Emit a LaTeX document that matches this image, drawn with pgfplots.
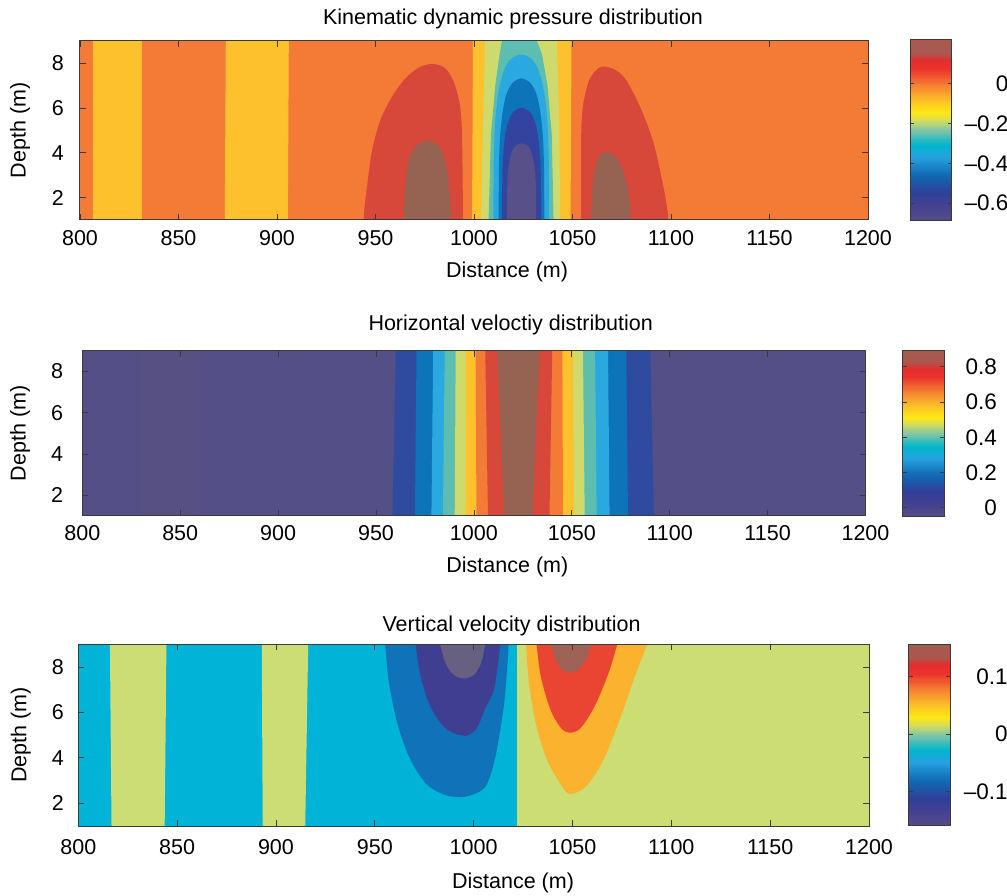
\documentclass[border=0pt]{standalone}
\usepackage{pgfplots}
\pgfplotsset{compat=1.18}
\usepackage{fontspec}
\setmainfont{Liberation Sans}

\definecolor{axisgray}{HTML}{3A3A3A}
\definecolor{cOr}{HTML}{F37B35}
\definecolor{cYe}{HTML}{FDC12D}
\definecolor{cRd}{HTML}{D8483A}
\definecolor{cBr}{HTML}{966252}
\definecolor{cYg}{HTML}{CEDB6C}
\definecolor{cTe}{HTML}{5DBEAF}
\definecolor{cLb}{HTML}{2AA8E0}
\definecolor{cBl}{HTML}{0D74BA}
\definecolor{cIn}{HTML}{3443A0}
\definecolor{cPu}{HTML}{585088}
\definecolor{cBg}{HTML}{544F87}
\definecolor{cBg2}{HTML}{565083}
\definecolor{cDb}{HTML}{2E4B9F}
\definecolor{vCy}{HTML}{00B3D7}
\definecolor{vYg}{HTML}{CBDD73}
\definecolor{vBl}{HTML}{1072B9}
\definecolor{vIn}{HTML}{403E91}
\definecolor{vGr}{HTML}{686080}
\definecolor{vOr}{HTML}{FBB22E}
\definecolor{vRd}{HTML}{E94532}
\definecolor{vBr}{HTML}{9E6356}

\pgfplotsset{
  colormap={mjet}{rgb255(0cm)=(84,78,133); rgb255(8cm)=(70,65,145); rgb255(15cm)=(48,62,152);
    rgb255(25cm)=(16,105,178); rgb255(35cm)=(38,160,222); rgb255(42cm)=(0,182,205);
    rgb255(50cm)=(125,196,168); rgb255(55cm)=(205,218,100); rgb255(60cm)=(255,232,18);
    rgb255(67cm)=(252,190,40); rgb255(75cm)=(245,130,50); rgb255(84cm)=(236,50,45);
    rgb255(89cm)=(228,45,45); rgb255(93cm)=(170,88,78); rgb255(100cm)=(165,90,80)},
  cfd/.style={scale only axis, axis on top, anchor=south west,
    every axis title shift=0pt,
    xmin=800, xmax=1200, ymin=1, ymax=9,
    xtick={800,850,...,1200}, xticklabels={800,850,900,950,1000,1050,1100,1150,1200},
    ytick={2,4,6,8}, yticklabels={2,4,6,8},
    tick align=inside, major tick length=6pt,
    tick style={color=axisgray, line width=0.8pt},
    axis line style={color=axisgray, line width=1pt},
    ticklabel style={font=\fontsize{21.5}{24}\selectfont, text=black, inner sep=0pt},
    xlabel={Distance (m)}, ylabel={Depth (m)},
    label style={font=\fontsize{21.5}{24}\selectfont},
    title style={font=\fontsize{21.5}{24}\selectfont},
    colormap name=mjet, colorbar sampled,
  },
  cbar/.style={at={(parent axis.north east)}, anchor=north west,
    scale only axis, width=41.6pt,
    title={}, xlabel={}, ylabel={}, xtick=\empty,
    tick align=inside, major tick length=4pt,
    tick style={color=axisgray, line width=0.8pt},
    axis line style={color=axisgray, line width=1pt},
    ytick pos=both, yticklabel pos=right, samples=160,
    yticklabel style={anchor=east, inner sep=0pt, font=\fontsize{22.5}{24}\selectfont}},
  area/.style={draw=none, fill=#1, forget plot},
  dome/.style={draw=none, fill=#1, forget plot, smooth, tension=0.5},
}

\begin{document}
\begin{tikzpicture}
\path[use as bounding box] (0pt,0pt) rectangle (1007pt,895pt);

% ---------------- Panel 1 ----------------
\begin{axis}[cfd, at={(80pt,675pt)}, width=788pt, height=179.3pt,
  title={Kinematic dynamic pressure distribution},
  title style={at={(axis description cs:0.5495,1)}, anchor=base, yshift=15.7pt},
  xlabel style={at={(axis description cs:0.542,0)}, anchor=base, yshift=-58pt},
  ylabel style={at={(axis description cs:-0.0761,0.5)}, anchor=center},
  xticklabel style={anchor=north, yshift=-10pt},
  yticklabel style={anchor=east, xshift=-16pt},
  point meta min=-0.684, point meta max=0.218,
  colorbar,
  colorbar style={cbar, xshift=33.7pt, yshift=0.7pt, height=180pt,
    ytick={-0.6,-0.4,-0.2,0}, yticklabels={--0.6,--0.4,--0.2,0},
    yticklabel style={xshift=56.7pt}},
]
\addplot[area=cOr] coordinates {(800,1)(1200,1)(1200,9)(800,9)} -- cycle;
\addplot[area=cYe] coordinates {(806.8,1)(831.6,1)(831.6,9)(806.8,9)} -- cycle;
\addplot[area=cYe] coordinates {(873.5,1)(905.5,1)(906,9)(874,9)} -- cycle;
\addplot[dome=cRd] coordinates {(944,-2)(944,1)(945.7,2.48)(948.3,4.12)(952.5,5.46)(958.4,6.5)(965.2,7.32)(972.8,7.84)(979.5,7.96)(985.4,7.77)(989.7,7.17)(992.7,6.2)(993.9,4.87)(994.4,1)(994.4,-2)} -- cycle;
\addplot[dome=cBr] coordinates {(964.3,-2)(964.3,1)(965.2,2.63)(966.8,3.67)(970.2,4.27)(975.3,4.54)(978.7,4.49)(982.9,4.2)(986,3.38)(987.6,2.19)(988.3,1)(988.3,-2)} -- cycle;
\addplot[dome=cRd] coordinates {(1054.4,-2)(1054.4,1)(1054.4,4.57)(1054.9,5.76)(1055.8,6.35)(1058.5,7.25)(1063,7.77)(1066.6,7.84)(1071.9,7.69)(1077.2,7.25)(1084.3,6.05)(1090.7,4.57)(1095.1,2.93)(1098.7,1)(1099,-2)} -- cycle;
\addplot[dome=cBr] coordinates {(1059.4,-2)(1059.4,1)(1060.3,2.63)(1062.1,3.53)(1064.8,3.97)(1068.4,4.0)(1071.9,3.82)(1075.5,3.23)(1078.1,2.33)(1079.6,1)(1079.6,-2)} -- cycle;
\addplot[area=cYe] coordinates {(999,1)(1049,1)(1049.5,9)(999.5,9)} -- cycle;
\addplot[area=cYg] coordinates {(1003.6,1)(1043.8,1)(1043.3,5)(1042.1,9)(1005.7,9)(1004.5,5)} -- cycle;
\addplot[area=cTe] coordinates {(1007.4,1)(1040.4,1)(1039.5,4.8)(1037.3,7.0)(1034.5,8.4)(1031.9,9)(1014.2,9)(1013,8.4)(1010.8,7.0)(1008.6,4.8)} -- cycle;
\addplot[dome=cLb] coordinates {(1009.8,-2)(1009.8,1)(1010.1,3.96)(1010.8,5.43)(1012.1,6.54)(1013.8,7.28)(1015.8,7.8)(1018.6,8.17)(1024,8.39)(1029.4,8.17)(1032.2,7.8)(1034.2,7.28)(1035.9,6.54)(1037.2,5.43)(1037.9,3.96)(1038.2,1)(1038.2,-2)} -- cycle;
\addplot[dome=cBl] coordinates {(1012.5,-2)(1012.5,1)(1012.7,3.53)(1013.3,4.79)(1014.4,5.74)(1015.7,6.37)(1017.4,6.81)(1019.7,7.13)(1024.1,7.32)(1028.5,7.13)(1030.8,6.81)(1032.5,6.37)(1033.8,5.74)(1034.9,4.79)(1035.5,3.53)(1035.7,1)(1035.7,-2)} -- cycle;
\addplot[dome=cIn] coordinates {(1014.2,-2)(1014.2,1)(1014.4,3.0)(1014.9,4.01)(1015.8,4.76)(1017.0,5.26)(1018.4,5.61)(1020.4,5.86)(1024.15,6.01)(1027.9,5.86)(1029.9,5.61)(1031.3,5.26)(1032.5,4.76)(1033.4,4.01)(1033.9,3.0)(1034.1,1)(1034.1,-2)} -- cycle;
\addplot[dome=cPu] coordinates {(1016.7,-2)(1016.7,1)(1016.85,2.37)(1017.2,3.05)(1017.9,3.57)(1018.8,3.91)(1019.8,4.15)(1021.3,4.32)(1024.15,4.42)(1027.0,4.32)(1028.5,4.15)(1029.5,3.91)(1030.4,3.57)(1031.1,3.05)(1031.45,2.37)(1031.6,1)(1031.6,-2)} -- cycle;
\end{axis}

% ---------------- Panel 2 ----------------
\begin{axis}[cfd, at={(82.3pt,379pt)}, width=783.2pt, height=165.3pt,
  title={Horizontal veloctiy distribution},
  title style={at={(axis description cs:0.547,1)}, anchor=base, yshift=20pt},
  xlabel style={at={(axis description cs:0.5427,0)}, anchor=base, yshift=-57pt},
  ylabel style={at={(axis description cs:-0.0795,0.5)}, anchor=center},
  xticklabel style={anchor=north, yshift=-9pt},
  yticklabel style={anchor=east, xshift=-19pt},
  point meta min=-0.05, point meta max=0.895,
  colorbar,
  colorbar style={cbar, xshift=28.8pt, yshift=0.7pt, height=166.7pt,
    ytick={0,0.2,0.4,0.6,0.8}, yticklabels={0,0.2,0.4,0.6,0.8},
    yticklabel style={xshift=52.7pt}},
]
\addplot[area=cBg] coordinates {(800,1)(1200,1)(1200,9)(800,9)} -- cycle;
\addplot[area=cBg2] coordinates {(829,1)(860,1)(860,9)(829,9)} -- cycle;
\addplot[area=cDb] coordinates {(958.4,1)(1091.9,1)(1090.1,9)(960.1,9)} -- cycle;
\addplot[area=cBl] coordinates {(969.9,1)(1078.7,1)(1077.8,9)(970.7,9)} -- cycle;
\addplot[area=cLb] coordinates {(978.3,1)(1069.3,1)(1068.5,9)(979.2,9)} -- cycle;
\addplot[area=cTe] coordinates {(984.2,1)(1062.7,1)(1061.9,9)(985.1,9)} -- cycle;
\addplot[area=cYg] coordinates {(990.2,1)(1056.6,1)(1055.7,9)(990.7,9)} -- cycle;
\addplot[area=cYe] coordinates {(995.8,1)(1051.1,1)(1050.6,9)(995.8,9)} -- cycle;
\addplot[area=cOr] coordinates {(1001.3,1)(1045.5,1)(1045.2,9)(1000.9,9)} -- cycle;
\addplot[area=cRd] coordinates {(1007.2,1)(1038.6,1)(1040,9)(1005.8,9)} -- cycle;
\addplot[area=cBr] coordinates {(1015.5,1)(1029.9,1)(1033.5,9)(1011.9,9)} -- cycle;
\end{axis}

% ---------------- Panel 3 ----------------
\begin{axis}[cfd, at={(78.3pt,69pt)}, width=790.7pt, height=181.7pt,
  title={Vertical velocity distribution},
  title style={at={(axis description cs:0.548,1)}, anchor=base, yshift=12.7pt},
  xlabel style={at={(axis description cs:0.5498,0)}, anchor=base, yshift=-62.3pt},
  ylabel style={at={(axis description cs:-0.0728,0.5)}, anchor=center},
  xticklabel style={anchor=north, yshift=-13.3pt},
  yticklabel style={anchor=east, xshift=-14.3pt},
  point meta min=-0.159, point meta max=0.156,
  colorbar,
  colorbar style={cbar, xshift=31pt, height=181.4pt,
    ytick={-0.1,0,0.1}, yticklabels={--0.1,0,0.1},
    yticklabel style={xshift=57.7pt}},
]
\addplot[area=vCy] coordinates {(800,1)(1200,1)(1200,9)(800,9)} -- cycle;
\addplot[area=vYg] coordinates {(1022,1)(1200,1)(1200,9)(1022,9)} -- cycle;
\addplot[area=vYg] coordinates {(816.8,1)(843.7,1)(844.6,9)(816,9)} -- cycle;
\addplot[area=vYg] coordinates {(893.3,1)(914.8,1)(916.3,9)(892.8,9)} -- cycle;
\addplot[dome=vBl] coordinates {(954.3,9.8)(955.2,9)(957.2,7.28)(961.4,5.52)(967.3,4.05)(975.7,2.88)(985.8,2.36)(996.3,2.3)(1005.9,2.73)(1011,4.05)(1015.2,6.25)(1016.9,7.87)(1017.7,9)(1018.3,9.8)} -- cycle;
\addplot[dome=vIn] coordinates {(969.1,9.8)(970.6,9)(973.2,7.57)(978.2,6.25)(985.8,5.3)(995.5,4.97)(1001.5,5.3)(1005.9,6.19)(1010.2,6.99)(1012.6,8.31)(1013.5,9)(1014.5,9.8)} -- cycle;
\addplot[dome=vGr] coordinates {(980.3,9.8)(983,9)(985.8,8.16)(990,7.65)(995,7.5)(1000,7.65)(1003.7,8.16)(1005.9,9)(1008,9.8)} -- cycle;
\addplot[dome=vOr] coordinates {(1025.8,9.8)(1026.5,9)(1028,7.28)(1031.8,5.37)(1037.2,3.9)(1044.3,2.8)(1048.7,2.41)(1056.7,2.73)(1065.6,3.9)(1074.4,5.81)(1081.5,7.57)(1087.8,9)(1091.3,9.8)} -- cycle;
\addplot[dome=vRd] coordinates {(1030.6,9.8)(1031.8,9)(1034,7.57)(1038.9,6.11)(1044.3,5.3)(1048.7,5.11)(1054,5.3)(1061.1,6.25)(1068.2,7.72)(1072.7,9)(1075.5,9.8)} -- cycle;
\addplot[dome=vBr] coordinates {(1035.8,9.8)(1038.9,9)(1041.6,8.31)(1045,7.85)(1048.7,7.75)(1052.5,7.85)(1056.7,8.31)(1059.4,9)(1062.5,9.8)} -- cycle;
\end{axis}
\end{tikzpicture}
\end{document}
